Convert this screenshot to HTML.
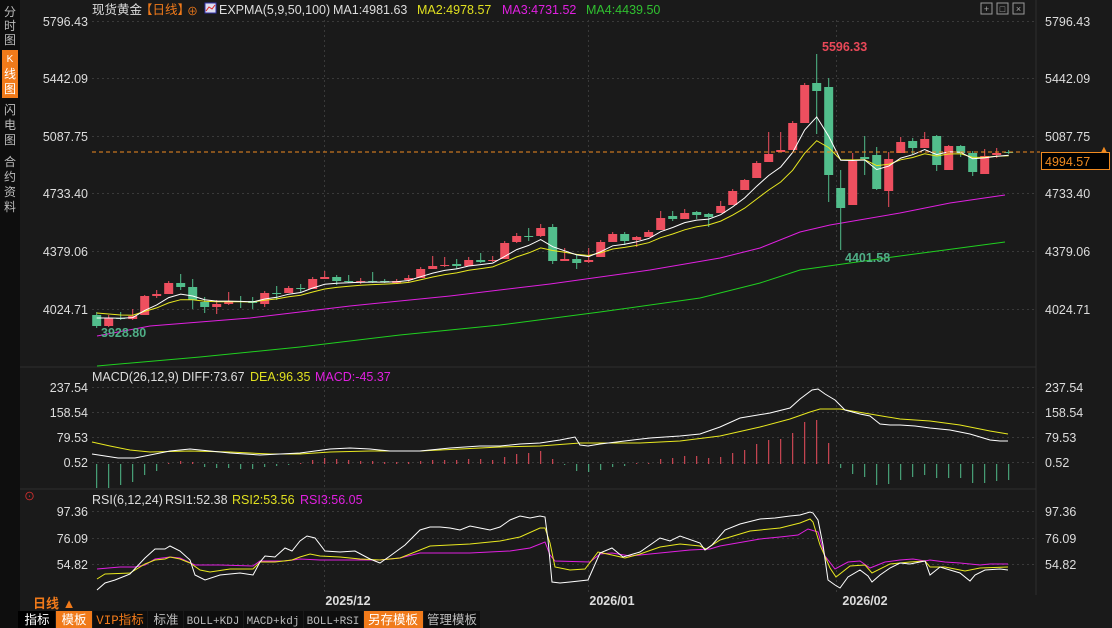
<!DOCTYPE html>
<html><head><meta charset="utf-8">
<style>
html,body{margin:0;padding:0;background:#1a1a1a;width:1112px;height:628px;overflow:hidden;}
svg{display:block;font-family:"Liberation Sans","Noto Sans CJK SC",sans-serif;}
</style></head>
<body>
<svg id="s" width="1112" height="628" xmlns="http://www.w3.org/2000/svg">
<rect width="1112" height="628" fill="#1a1a1a"/>
<!-- left sidebar -->
<rect x="0" y="0" width="20" height="611" fill="#0e0e0e"/>
<rect x="2" y="50" width="16" height="48" fill="#f07a1a"/>
<g font-size="12" fill="#bbbbbb" text-anchor="middle">
<text x="10" y="16">分</text><text x="10" y="30">时</text><text x="10" y="44">图</text>
<text x="10" y="62" fill="#fff" font-size="10">K</text><text x="10" y="78" fill="#fff">线</text><text x="10" y="93" fill="#fff">图</text>
<text x="10" y="114">闪</text><text x="10" y="129">电</text><text x="10" y="144">图</text>
<text x="10" y="166">合</text><text x="10" y="181">约</text><text x="10" y="196">资</text><text x="10" y="211">料</text>
</g>
<!-- right axis border -->
<line x1="1036" y1="0" x2="1036" y2="595" stroke="#2e2e2e"/>
<line x1="20" y1="367" x2="1036" y2="367" stroke="#2e2e2e"/>
<line x1="20" y1="489" x2="1036" y2="489" stroke="#2e2e2e"/>
<g id="grid" stroke="#3a3a3a" stroke-dasharray="2,3"></g>
<!-- axis labels -->
<g font-size="12.5" fill="#dddddd">
<g text-anchor="end">
<text x="88" y="26">5796.43</text><text x="88" y="83">5442.09</text><text x="88" y="141">5087.75</text>
<text x="88" y="198">4733.40</text><text x="88" y="256">4379.06</text><text x="88" y="314">4024.71</text>
<text x="88" y="392">237.54</text><text x="88" y="417">158.54</text><text x="88" y="442">79.53</text><text x="88" y="467">0.52</text>
<text x="88" y="516">97.36</text><text x="88" y="543">76.09</text><text x="88" y="569">54.82</text>
</g>
<text x="1045" y="26">5796.43</text><text x="1045" y="83">5442.09</text><text x="1045" y="141">5087.75</text>
<text x="1045" y="198">4733.40</text><text x="1045" y="256">4379.06</text><text x="1045" y="314">4024.71</text>
<text x="1045" y="392">237.54</text><text x="1045" y="417">158.54</text><text x="1045" y="442">79.53</text><text x="1045" y="467">0.52</text>
<text x="1045" y="516">97.36</text><text x="1045" y="543">76.09</text><text x="1045" y="569">54.82</text>
</g>
<!-- header -->
<g font-size="12.5">
<text x="92" y="14" fill="#dddddd">现货黄金</text>
<text x="140" y="14" fill="#f07a1a">【日线】</text>
<text x="187" y="15" fill="#f07a1a" font-size="11">⊕</text>
<rect x="205" y="3" width="11" height="10" fill="#dde" stroke="#33a" stroke-width="1"/>
<polyline points="206,11 209,7 212,9 215,5" fill="none" stroke="#d22" stroke-width="1"/>
<text x="219" y="14" fill="#dddddd">EXPMA(5,9,50,100)</text>
<text x="333" y="14" fill="#dddddd">MA1:4981.63</text>
<text x="417" y="14" fill="#e0e020">MA2:4978.57</text>
<text x="502" y="14" fill="#e020e0">MA3:4731.52</text>
<text x="586" y="14" fill="#30c030">MA4:4439.50</text>
<text x="92" y="381" fill="#dddddd">MACD(26,12,9)</text>
<text x="182" y="381" fill="#dddddd">DIFF:73.67</text>
<text x="250" y="381" fill="#e0e020">DEA:96.35</text>
<text x="315" y="381" fill="#e020e0">MACD:-45.37</text>
<text x="92" y="504" fill="#dddddd">RSI(6,12,24)</text>
<text x="165" y="504" fill="#dddddd">RSI1:52.38</text>
<text x="232" y="504" fill="#e0e020">RSI2:53.56</text>
<text x="300" y="504" fill="#e020e0">RSI3:56.05</text>
</g>
<text x="24" y="500" fill="#e03030" font-size="11">⊙</text>
<!-- top right icons -->
<g fill="none" stroke="#999">
<rect x="981" y="3" width="11" height="11"/><rect x="997" y="3" width="11" height="11"/><rect x="1013" y="3" width="11" height="11"/>
</g>
<g font-size="9" fill="#aaa" text-anchor="middle"><text x="986.5" y="12">+</text><text x="1002.5" y="12">□</text><text x="1018.5" y="12">×</text></g>
<!-- MA lines -->
<polyline fill="none" stroke="#e020e0" stroke-width="1" points="97,336 150,326 250,318 350,306 450,296 550,284 650,270 720,258 760,248 800,232 830,225 900,213 950,203 1005,195"/>
<polyline fill="none" stroke="#20d020" stroke-width="1" points="97,366 200,357 300,347 400,335 500,325 600,312 700,298 760,283 800,270 850,263 900,256 1005,242"/>
<g id="cand"></g>
<polyline id="ema9" fill="none" stroke="#e8e820" stroke-width="1"/>
<polyline id="ema5" fill="none" stroke="#ffffff" stroke-width="1"/>
<!-- price line -->
<line x1="92" y1="152" x2="1040" y2="152" stroke="#f08a20" stroke-dasharray="4,3"/>
<rect x="1041.5" y="152.5" width="68" height="17" fill="#000" stroke="#f08a20"/>
<text x="1045" y="166" fill="#f08a20" font-size="12.5">4994.57</text>
<text x="1104" y="152" fill="#f08a20" font-size="9" text-anchor="middle">▲</text>
<g font-size="12.5" font-weight="bold">
<text x="101" y="337" fill="#4fae86">3928.80</text>
<text x="822" y="51" fill="#e84858">5596.33</text>
<text x="845" y="262" fill="#4fae86">4401.58</text>
</g>
<!-- MACD -->
<g id="hist"></g>
<polyline fill="none" stroke="#e8e820" points="92,442 110,446 130,450 150,452 190,451 230,452 270,454 300,454 330,452 370,451 420,451 460,449 500,447 540,446 580,443 600,443 640,443 680,441 720,436 760,427 790,419 810,412 820,409 840,409 870,414 900,419 930,421 960,425 990,431 1008,434"/>
<polyline fill="none" stroke="#ffffff" points="92,454 105,456 118,458 135,458 150,455 170,451 190,449 210,451 230,453 260,455 300,453 330,449 350,448 370,449 390,451 420,451 450,448 480,446 500,446 520,444 540,443 560,440 575,437 580,445 588,446 600,444 650,438 680,436 700,434 720,427 740,418 770,413 790,408 800,399 812,390 818,389 825,394 835,400 845,410 860,414 870,416 875,420 880,424 890,425 900,425 915,426 930,428 950,430 970,434 990,440 1000,441 1008,441"/>
<!-- RSI -->
<polyline fill="none" stroke="#e020e0" points="97,569 120,567 135,567 145,565 155,559 170,557 180,558 195,565 220,565 253,566 260,561 285,561 300,559 320,560 360,560 380,560 400,558 420,553 470,553 510,551 530,548 545,542 550,555 555,561 590,562 600,554 612,553 630,556 660,553 690,550 710,549 720,546 760,539 780,537 798,535 808,529 818,532 825,556 835,569 848,562 860,561 870,568 885,562 900,560 913,559 925,561 930,560 945,562 960,563 980,565 990,564 1008,564"/>
<polyline fill="none" stroke="#e8e820" points="97,579 105,574 130,573 145,564 155,560 165,559 170,557 180,559 190,563 200,570 210,572 230,569 253,569 260,562 275,562 292,560 300,557 310,554 320,556 340,557 360,559 380,560 400,558 430,546 470,544 500,541 520,537 540,528 545,528 550,543 555,567 570,570 585,569 598,552 612,555 625,558 640,554 660,547 680,544 700,546 706,549 720,540 750,531 780,528 800,523 810,519 813,522 820,545 830,568 836,577 850,566 865,565 872,573 890,564 910,562 925,561 930,567 945,567 965,571 980,568 1008,567"/>
<polyline fill="none" stroke="#ffffff" points="97,590 105,583 115,580 130,574 145,558 155,549 165,549 170,546 180,551 190,560 195,575 205,580 220,575 240,573 253,575 260,562 265,556 275,557 285,548 292,551 300,541 307,536 315,538 325,551 340,552 355,551 370,559 380,563 390,556 405,545 420,530 430,527 440,527 450,528 460,530 470,526 480,528 490,530 500,527 510,520 520,516 530,518 540,516 545,517 548,540 552,582 560,583 570,582 588,580 600,553 612,548 623,557 640,552 660,538 670,541 680,536 700,543 705,550 712,545 725,530 740,524 760,519 775,518 790,516 800,515 810,512 813,513 818,520 823,545 828,580 835,585 840,588 848,577 860,570 868,576 872,582 880,575 890,568 900,563 910,564 920,562 925,561 930,575 940,567 950,570 960,573 970,581 975,575 985,570 1000,569 1008,570"/>
<!-- dates -->
<g font-size="12.5" font-weight="bold" fill="#dddddd" text-anchor="middle">
<text x="348" y="605">2025/12</text><text x="612" y="605">2026/01</text><text x="865" y="605">2026/02</text>
</g>
<text x="33" y="608" fill="#f07a1a" font-size="13" font-weight="bold">日线 ▲</text>
<!-- bottom tabs -->
<rect x="0" y="611" width="1112" height="17" fill="#1a1a1a"/>
<rect x="0" y="611" width="18" height="17" fill="#0e0e0e"/>
<g font-size="12.5" text-anchor="middle">
<rect x="18" y="611" width="37" height="17" fill="#000"/><text x="37" y="624" fill="#fff">指标</text>
<rect x="56" y="611" width="36" height="17" fill="#f07a1a"/><text x="74" y="624" fill="#fff">模板</text>
<rect x="93" y="611" width="54" height="17" fill="#0e0e0e"/><text x="120" y="624" fill="#f07a1a" font-family="Liberation Mono,Noto Sans CJK SC,monospace">VIP指标</text>
<rect x="148" y="611" width="35" height="17" fill="#0e0e0e"/><text x="166" y="624" fill="#bbb">标准</text>
<g font-family="Liberation Mono,monospace" font-size="11" fill="#bbb">
<rect x="184" y="611" width="59" height="17" fill="#0e0e0e"/><text x="213" y="624">BOLL+KDJ</text>
<rect x="244" y="611" width="59" height="17" fill="#0e0e0e"/><text x="273" y="624">MACD+kdj</text>
<rect x="304" y="611" width="59" height="17" fill="#0e0e0e"/><text x="333" y="624">BOLL+RSI</text>
</g>
<rect x="364" y="611" width="59" height="17" fill="#f07a1a"/><text x="393" y="624" fill="#fff">另存模板</text>
<rect x="424" y="611" width="56" height="17" fill="#0e0e0e"/><text x="452" y="624" fill="#bbb">管理模板</text>
</g>
</svg>
<script>
var NS="http://www.w3.org/2000/svg";
function el(p,t,a){var e=document.createElementNS(NS,t);for(var k in a)e.setAttribute(k,a[k]);p.appendChild(e);return e;}
// grid
var g=document.getElementById('grid');
[21,78,136,193,251,309,387,412,437,462,511,538,564].forEach(function(y){el(g,'line',{x1:92,y1:y+.5,x2:1036,y2:y+.5});});
[324,588,836].forEach(function(x){el(g,'line',{x1:x+.5,y1:20,x2:x+.5,y2:595});});
// candles: [top,bottom,high,low,red]
var C=[[315,326,312,328,0],[318,326,315,327,1],[318,319,312,320,0],[316,319,309,320,1],[296,315,295,315,1],[294,296,290,298,1],[283,294,281,294,1],[283,287,274,290,0],[287,300,279,309,0],[302,307,297,313,0],[304,307,300,314,1],[301,304,292,305,1],[301,302,296,308,0],[301,303,297,309,0],[293,304,291,307,1],[293,294,286,300,0],[288,293,286,293,1],[288,289,284,292,0],[279,289,277,289,1],[277,279,271,279,1],[277,281,275,285,0],[281,282,275,283,0],[281,282,278,284,1],[281,282,272,283,0],[281,282,279,283,0],[281,283,279,284,1],[278,280,275,282,1],
[269,278,267,278,1],[266,269,256,269,1],[265,266,257,267,1],[264,266,259,269,0],[260,266,257,266,1],[260,262,253,263,0],[260,261,256,262,1],[243,259,241,259,1],[236,242,233,243,1],[236,237,228,241,0],[228,236,224,237,1],[227,261,224,264,0],[259,261,248,261,1],[259,263,254,269,0],[260,262,248,263,1],[242,257,240,257,1],[234,242,232,242,1],[234,241,232,245,0],[237,240,236,247,1],[232,237,230,237,1],[218,230,211,230,1],[216,219,211,221,0],[213,219,209,219,1],[212,215,211,219,0],[214,217,213,227,0],[206,213,201,213,1],[191,205,189,205,1],[180,190,179,190,1],
[163,178,161,178,1],[154,162,132,162,1],[150,152,132,152,1],[123,150,121,150,1],[85,123,83,123,1],[83,91,54,134,0],[87,175,78,202,0],[188,208,170,250,0],[161,205,153,205,1],[157,159,136,175,0],[155,189,147,190,0],[159,191,152,207,1],[142,153,137,153,1],[141,148,138,154,0],[139,148,132,148,1],[136,165,135,171,0],[146,170,145,170,1],[146,153,145,157,0],[153,172,151,176,0],[156,174,149,174,1],[153,155,148,158,1],[152,153,150,154,0]];
var cg=document.getElementById('cand');
var e5=[],e9=[],a=318,b=313;
C.forEach(function(c,i){
 var x=96.7+12*i, col=c[4]?'#ee4f5f':'#52be8c';
 el(cg,'line',{x1:x,y1:c[2],x2:x,y2:c[3],stroke:col,'stroke-width':1});
 el(cg,'rect',{x:x-4.5,y:c[0],width:9,height:Math.max(1,c[1]-c[0]),fill:col});
 var cl=c[4]?c[0]:c[1];
 if(i>0){a=a+(cl-a)*2/6;b=b+(cl-b)*2/10;}
 e5.push(x.toFixed(1)+','+a.toFixed(1));e9.push(x.toFixed(1)+','+b.toFixed(1));
});
document.getElementById('ema5').setAttribute('points',e5.join(' '));
document.getElementById('ema9').setAttribute('points',e9.join(' '));
// MACD hist end y
var H=[488,488,485,482,475,471,463,461,462,467,468,468,469,469,467,466,465,463,460,458,459,460,461,461,462,462,462,461,460,460,460,459,459,460,457,454,453,451,459,465,471,472,470,467,466,463,463,459,458,456,456,458,457,453,450,444,440,439,433,422,420,443,468,474,477,485,484,480,477,475,478,478,478,483,483,481,480];
var hg=document.getElementById('hist');
H.forEach(function(y,i){var x=96.7+12*i;el(hg,'line',{x1:x,y1:464,x2:x,y2:y,stroke:y<464?'#ee4f5f':'#52be8c','stroke-width':1});});
</script>
</body></html>
